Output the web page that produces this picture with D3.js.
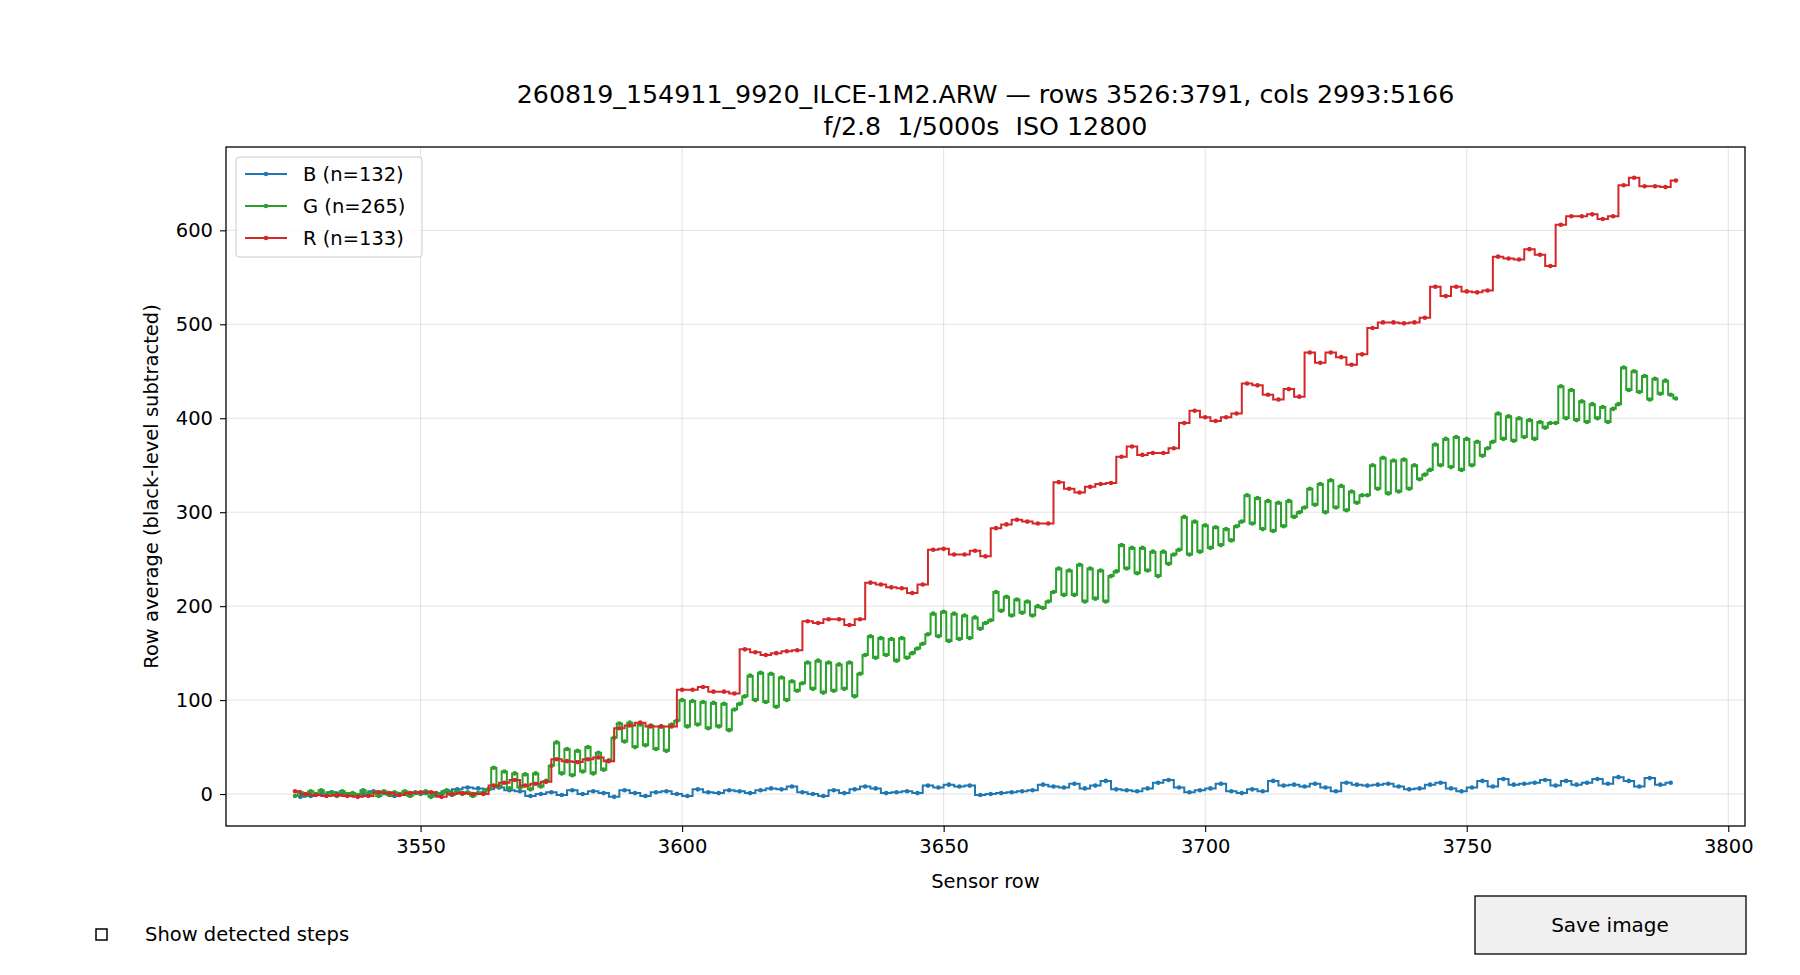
<!DOCTYPE html>
<html>
<head>
<meta charset="utf-8">
<script src="https://cdn.jsdelivr.net/npm/d3@7"></script>
<style>
  body { margin: 0; background: #fff; font-family: "DejaVu Sans", sans-serif; }
</style>
</head>
<body>
<div id="chart"></div>
<script>
// rows of each channel
var rRows = d3.range(3526, 3791, 2);
var gRows = d3.range(3526, 3791, 1);
var bRows = d3.range(3527, 3790, 2);

var rValues = [
  3,0,-1,-2,-1,-2,-3,-2,2,1,-1,1,2,2,-3,0,1,0,0,
  9,12,15,9,11,13,
  37,35,34,37,39,35,
  70,73,76,72,72,72,
  111,111,114,109,109,107,
  154,151,148,150,152,153,
  184,182,186,186,180,186,
  225,223,220,219,214,223,
  260,261,255,255,259,253,
  283,287,292,290,288,288,
  332,325,321,327,330,331,
  359,370,361,363,363,368,
  395,408,401,397,401,405,
  437,435,425,420,431,423,
  470,459,470,465,457,468,
  496,502,502,501,502,507,
  540,530,540,535,534,536,
  572,570,569,580,574,562,
  606,615,615,617,612,615,
  648,656,647,647,646,653
];

var gValues = [
  -2,2,-1,3,0,4,-1,2,-2,3,0,1,-1,4,0,2,-2,3,-1,2,0,3,-2,1,0,3,-3,1,0,4,-1,3,0,2,-2,1,2,
  5,28,8,24,6,22,7,21,5,22,8,14,
  30,55,22,48,20,46,24,50,22,44,26,36,
  60,75,56,76,50,74,52,73,48,72,46,74,
  78,100,72,99,74,98,70,97,72,96,68,90,
  96,104,126,100,129,98,128,93,124,100,120,110,
  118,140,112,142,108,140,110,138,112,140,104,128,
  148,168,145,166,148,165,142,166,145,150,155,160,
  170,192,168,194,163,192,165,190,166,188,176,182,
  185,215,195,210,190,207,193,205,190,200,198,205,
  215,240,212,238,212,244,205,240,208,238,205,232,
  237,265,240,262,235,262,238,258,232,258,245,255,
  260,295,255,290,258,286,262,284,265,282,270,285,
  290,318,288,315,282,312,280,310,285,312,295,300,
  305,325,308,330,300,334,305,328,302,322,310,318,
  318,350,325,358,320,355,322,356,325,350,335,340,
  345,372,350,378,348,380,345,378,350,375,360,368,
  375,405,378,402,376,400,380,398,378,396,390,395,
  395,434,400,430,398,418,396,415,400,412,396,410,
  415,454,430,450,428,445,420,442,426,440,425,421
];

var bValues = [
  -3,-2,0,2,1,-1,0,3,1,-2,0,2,1,-1,3,5,7,6,
  5,7,4,3,-2,0,2,-1,4,0,3,1,-3,4,1,-2,2,3,0,-2,
  5,2,1,4,3,1,4,6,5,8,2,0,-2,4,1,5,8,6,1,2,
  3,1,9,7,10,8,9,-1,0,1,2,3,4,10,8,7,11,6,9,14,
  5,4,3,6,12,15,7,2,4,6,11,3,1,5,3,14,9,10,8,11,
  7,3,12,10,9,10,11,8,5,6,10,12,6,3,7,14,8,16,10,11,
  12,15,9,14,10,12,16,11,18,14,8,17,10,12
];

var xTicks = [3550, 3600, 3650, 3700, 3750, 3800];
var yTicks = [0, 100, 200, 300, 400, 500, 600];

var series = [
  {name: "B (n=132)", color: "#1f77b4", rows: bRows, values: bValues},
  {name: "G (n=265)", color: "#2ca02c", rows: gRows, values: gValues},
  {name: "R (n=133)", color: "#d62728", rows: rRows, values: rValues}
];

var W = 1800, H = 975;
var margin = {top: 147, right: 55, bottom: 149, left: 226},
  width = W - margin.left - margin.right,
  height = H - margin.top - margin.bottom;

var svg = d3.select("#chart").append("svg")
  .attr("width", W)
  .attr("height", H)
  .style("font-family", "DejaVu Sans, sans-serif");

var g = svg.append("g")
  .attr("transform", "translate(" + margin.left + "," + margin.top + ")");

var xScale = d3.scaleLinear().domain([3512.8, 3803.2]).range([0, width]);
var yScale = d3.scaleLinear().domain([-34, 688.7]).range([height, 0]);

// grid
g.append("g").selectAll("line").data(xTicks).enter().append("line")
  .attr("x1", function(d) { return xScale(d); })
  .attr("x2", function(d) { return xScale(d); })
  .attr("y1", 0).attr("y2", height)
  .attr("stroke", "#b0b0b0").attr("stroke-opacity", 0.35);
g.append("g").selectAll("line").data(yTicks).enter().append("line")
  .attr("y1", function(d) { return yScale(d); })
  .attr("y2", function(d) { return yScale(d); })
  .attr("x1", 0).attr("x2", width)
  .attr("stroke", "#b0b0b0").attr("stroke-opacity", 0.35);

// axes
var xAxis = g.append("g")
  .attr("transform", "translate(0," + height + ")")
  .call(d3.axisBottom(xScale).tickValues(xTicks).tickSize(6).tickPadding(7).tickFormat(d3.format("d")));
var yAxis = g.append("g")
  .call(d3.axisLeft(yScale).tickValues(yTicks).tickSize(6).tickPadding(7).tickFormat(d3.format("d")));
[xAxis, yAxis].forEach(function(a) {
  a.select(".domain").remove();
  a.selectAll("text").style("font-size", "19.5px").attr("fill", "#000").style("font-family", "DejaVu Sans, sans-serif");
  a.selectAll("line").attr("stroke", "#000").attr("stroke-width", 1.1);
});

// lines
var line = d3.line()
  .x(function(d) { return xScale(d[0]); })
  .y(function(d) { return yScale(d[1]); })
  .curve(d3.curveStep);

series.forEach(function(s) {
  var pts = s.rows.map(function(r, i) { return [r, s.values[i]]; });
  var sg = g.append("g");
  sg.append("path")
    .datum(pts)
    .attr("d", line)
    .attr("fill", "none")
    .attr("stroke", s.color)
    .attr("stroke-width", 2);
  sg.selectAll("circle").data(pts).enter().append("circle")
    .attr("cx", function(d) { return xScale(d[0]); })
    .attr("cy", function(d) { return yScale(d[1]); })
    .attr("r", 2.3)
    .attr("fill", s.color);
});

// frame
g.append("rect")
  .attr("width", width).attr("height", height)
  .attr("fill", "none").attr("stroke", "#000").attr("stroke-width", 1.3);

// legend
var leg = g.append("g").attr("transform", "translate(10,10)");
leg.append("rect")
  .attr("width", 186).attr("height", 100).attr("rx", 3)
  .attr("fill", "#fff").attr("fill-opacity", 0.8)
  .attr("stroke", "#ccc");
series.forEach(function(s, i) {
  var yy = 17 + i * 32;
  leg.append("line").attr("x1", 9).attr("x2", 51).attr("y1", yy).attr("y2", yy)
    .attr("stroke", s.color).attr("stroke-width", 2);
  leg.append("circle").attr("cx", 30).attr("cy", yy).attr("r", 2.3).attr("fill", s.color);
  leg.append("text").attr("x", 67).attr("y", yy + 7)
    .style("font-size", "19.5px").text(s.name);
});

// titles and labels
svg.append("text").attr("x", margin.left + width / 2).attr("y", 103)
  .attr("text-anchor", "middle").style("font-size", "25.3px")
  .text("260819_154911_9920_ILCE-1M2.ARW \u2014 rows 3526:3791, cols 2993:5166");
svg.append("text").attr("x", margin.left + width / 2).attr("y", 135)
  .attr("text-anchor", "middle").style("font-size", "25.3px")
  .style("white-space", "pre").attr("xml:space", "preserve")
  .text("f/2.8  1/5000s  ISO 12800");
svg.append("text").attr("x", margin.left + width / 2).attr("y", 888)
  .attr("text-anchor", "middle").style("font-size", "19.5px")
  .text("Sensor row");
svg.append("text")
  .attr("transform", "translate(158," + (margin.top + height / 2) + ")rotate(-90)")
  .attr("text-anchor", "middle").style("font-size", "19.5px")
  .text("Row average (black-level subtracted)");

// check box and button
svg.append("rect").attr("x", 96).attr("y", 929).attr("width", 11).attr("height", 11)
  .attr("fill", "#fff").attr("stroke", "#000").attr("stroke-width", 1.5);
svg.append("text").attr("x", 145).attr("y", 941).style("font-size", "19.5px").text("Show detected steps");
svg.append("rect").attr("x", 1484).attr("y", 902).attr("width", 271).attr("height", 58)
  .attr("fill", "#f0f0f0").attr("stroke", "#000").attr("stroke-width", 1.3)
  .attr("transform", "translate(-9,-6)");
svg.append("text").attr("x", 1610).attr("y", 932).attr("text-anchor", "middle")
  .style("font-size", "20px").text("Save image");
</script>
</body>
</html>
